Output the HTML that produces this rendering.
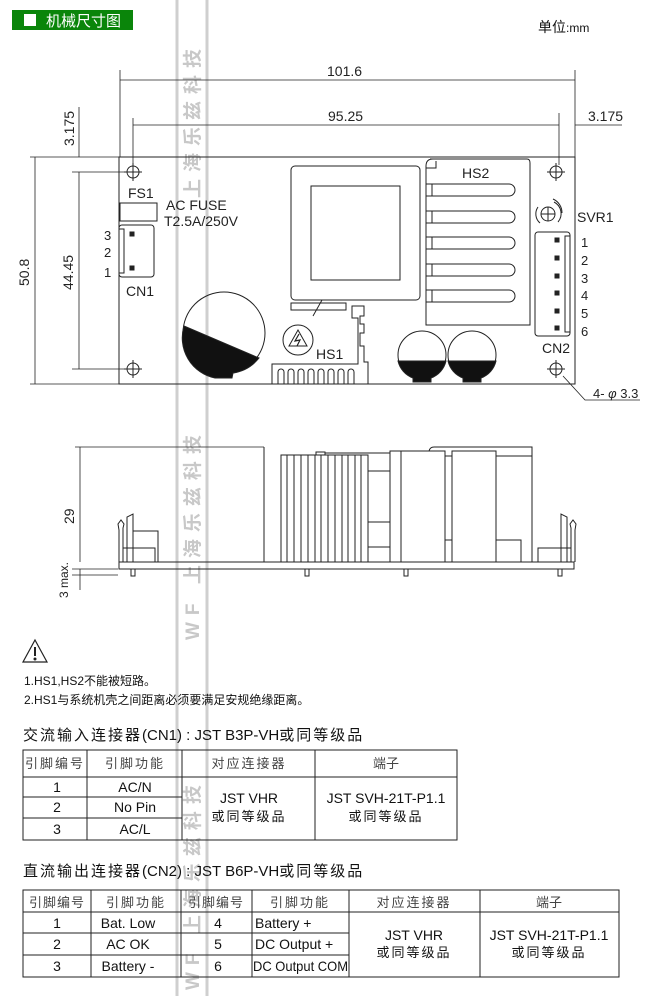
<!DOCTYPE html>
<html><head><meta charset="utf-8"><style>
html,body{margin:0;padding:0;background:#fff;}
body{width:657px;height:996px;position:relative;overflow:hidden;font-family:"Liberation Sans","Noto Sans CJK SC",sans-serif;color:#111;}
svg{position:absolute;left:0;top:0;}
text{font-family:"Liberation Sans Narrow","Liberation Sans","Noto Sans CJK SC",sans-serif;}
.cjk{font-family:"Liberation Sans","Noto Sans CJK SC",sans-serif;}
</style></head><body>
<svg width="657" height="996" viewBox="0 0 657 996" fill="none" stroke="#222" stroke-width="1">
<!-- watermark -->
<g stroke="#cfcfcf" stroke-width="3"><line x1="177" y1="0" x2="177" y2="996"/><line x1="207" y1="0" x2="207" y2="996"/></g>
<g fill="#c8c8c8" stroke="none" font-size="19" font-weight="bold" class="cjk">
<text class="cjk" transform="translate(199,198) rotate(-90)" letter-spacing="7">上海乐兹科技</text>
<text class="cjk" transform="translate(199,640) rotate(-90)" letter-spacing="7">WF 上海乐兹科技</text>
<text class="cjk" transform="translate(199,990) rotate(-90)" letter-spacing="7">WF 上海乐兹科技</text>
</g>
<!-- header -->
<rect x="12" y="10" width="121" height="20" fill="#0a850a" stroke="none"/>
<rect x="24" y="14" width="12" height="12" fill="#fff" stroke="none"/>
<text class="cjk" x="46" y="26" fill="#fff" stroke="none" font-size="15">机械尺寸图</text>
<text class="cjk" x="538" y="32" fill="#111" stroke="none" font-size="14">单位<tspan font-size="12">:mm</tspan></text>

<!-- top dimensions -->
<g stroke-width="0.8">
<line x1="120" y1="70" x2="120" y2="157"/><line x1="575" y1="70" x2="575" y2="157"/>
<line x1="120" y1="80" x2="575" y2="80"/>
<line x1="133" y1="118" x2="133" y2="165"/><line x1="559" y1="113" x2="559" y2="165"/>
<line x1="133" y1="125" x2="559" y2="125"/>
<line x1="575" y1="125" x2="622" y2="125"/>
<line x1="79" y1="107" x2="79" y2="157"/>
<line x1="30" y1="157" x2="120" y2="157"/><line x1="30" y1="384" x2="120" y2="384"/>
<line x1="72" y1="172" x2="140" y2="172"/><line x1="72" y1="369" x2="140" y2="369"/>
<line x1="35" y1="157" x2="35" y2="384"/><line x1="79" y1="172" x2="79" y2="369"/>
</g>
<g fill="#222" stroke="none" font-size="14">
<text x="327" y="76">101.6</text><text x="328" y="121">95.25</text><text x="588" y="121">3.175</text>
<text transform="translate(74,146) rotate(-90)">3.175</text>
<text transform="translate(29,286) rotate(-90)">50.8</text>
<text transform="translate(73,290) rotate(-90)">44.45</text>
</g>

<!-- board top -->
<rect x="119" y="157" width="456" height="227" stroke-width="1"/>
<g>
<circle cx="133" cy="172" r="6"/><line x1="124" y1="172" x2="142" y2="172"/><line x1="133" y1="163" x2="133" y2="181"/>
<circle cx="133" cy="369" r="6"/><line x1="124" y1="369" x2="142" y2="369"/><line x1="133" y1="360" x2="133" y2="378"/>
<circle cx="556" cy="172" r="6"/><line x1="547" y1="172" x2="565" y2="172"/><line x1="556" y1="163" x2="556" y2="181"/>
<circle cx="556" cy="369" r="6"/><line x1="547" y1="369" x2="565" y2="369"/><line x1="556" y1="360" x2="556" y2="378"/>
</g>
<polyline points="563,376 585,400 640,400" stroke-width="0.8"/>
<g fill="#222" stroke="none" font-size="14">
<text x="128" y="198">FS1</text>
<text x="166" y="210">AC FUSE</text><text x="164" y="226">T2.5A/250V</text>
<text x="104" y="240" font-size="13">3</text><text x="104" y="257" font-size="13">2</text><text x="104" y="277" font-size="13">1</text>
<text x="126" y="296">CN1</text>
<text x="462" y="178">HS2</text>
<text x="577" y="222">SVR1</text>
<text x="581" y="247" font-size="13">1</text><text x="581" y="265" font-size="13">2</text><text x="581" y="283" font-size="13">3</text>
<text x="581" y="300" font-size="13">4</text><text x="581" y="318" font-size="13">5</text><text x="581" y="336" font-size="13">6</text>
<text x="542" y="353">CN2</text>
<text x="316" y="359">HS1</text>
<text x="593" y="398" font-size="13">4- <tspan font-style="italic">φ</tspan> 3.3</text>
</g>
<rect x="120" y="203" width="37" height="18"/>
<rect x="119" y="225" width="35" height="52" rx="3"/>
<rect x="119" y="229" width="5" height="44"/>
<rect x="130" y="232" width="4" height="4" fill="#222"/><rect x="130" y="266" width="4" height="4" fill="#222"/>
<circle cx="224" cy="333" r="41"/>
<path d="M184,326 L259,358 A41,41 0 0 1 233,373 L232,378 L215,378 A41,41 0 0 1 184,326 Z" fill="#111"/>
<rect x="291" y="166" width="129" height="134" rx="4"/>
<rect x="311" y="186" width="89" height="94"/>
<rect x="291" y="303" width="55" height="7"/>
<line x1="313" y1="316" x2="322" y2="300"/>
<circle cx="298" cy="340" r="15"/>
<path d="M298,330 L307,346 L289,346 Z"/>
<path d="M299,334 L295,341 L300,340 L297,346" stroke-width="1.2"/>
<path d="M272,384 L272,364 L358,364 L358,318 L352,318 L352,306 L364,306 L364,316 L360,316 L360,324 L364,324 L364,333 L360,333 L360,346 L364,346 L364,362 L368,362 L368,384"/>
<path d="M278,384 L278,372 A3,3 0 0 1 284,372 L284,384 M288,384 L288,372 A3,3 0 0 1 294,372 L294,384 M298,384 L298,372 A3,3 0 0 1 304,372 L304,384 M308,384 L308,372 A3,3 0 0 1 314,372 L314,384 M318,384 L318,372 A3,3 0 0 1 324,372 L324,384 M328,384 L328,372 A3,3 0 0 1 334,372 L334,384 M338,384 L338,372 A3,3 0 0 1 344,372 L344,384 M348,384 L348,372 A3,3 0 0 1 354,372 L354,384"/>
<path d="M430,159 L527,159 Q530,159 530,163 L530,325 L426,325 L426,166 Q426,159 433,159 Z"/>
<path d="M426,168 L436,168 L436,161"/>
<g>
<path d="M426,184 L509,184 A6,6 0 0 1 509,196 L426,196 M432,184 L432,196"/>
<path d="M426,211 L509,211 A6,6 0 0 1 509,223 L426,223 M432,211 L432,223"/>
<path d="M426,237 L509,237 A6,6 0 0 1 509,249 L426,249 M432,237 L432,249"/>
<path d="M426,264 L509,264 A6,6 0 0 1 509,276 L426,276 M432,264 L432,276"/>
<path d="M426,290 L509,290 A6,6 0 0 1 509,302 L426,302 M432,290 L432,302"/>
</g>
<circle cx="548" cy="214" r="7"/><line x1="541" y1="214" x2="555" y2="214"/><line x1="548" y1="207" x2="548" y2="221"/>
<path d="M538,207 A12,12 0 0 0 540,223 M554,202 A13,13 0 0 1 558,222 M553,199 A15,15 0 0 1 562,213"/>
<rect x="535" y="232" width="35" height="104" rx="3"/>
<rect x="565" y="236" width="5" height="96"/>
<g fill="#222"><rect x="555" y="238" width="4" height="4"/><rect x="555" y="256" width="4" height="4"/><rect x="555" y="274" width="4" height="4"/><rect x="555" y="291" width="4" height="4"/><rect x="555" y="309" width="4" height="4"/><rect x="555" y="326" width="4" height="4"/></g>
<circle cx="422" cy="355" r="24"/><circle cx="472" cy="355" r="24"/>
<path d="M398,361 L446,361 A24,24 0 0 1 431,378 L431,382 L413,382 L413,378 A24,24 0 0 1 398,361 Z" fill="#111"/>
<path d="M448,361 L496,361 A24,24 0 0 1 481,378 L481,382 L463,382 L463,378 A24,24 0 0 1 448,361 Z" fill="#111"/>

<!-- side view -->
<g stroke-width="0.8">
<line x1="75" y1="447" x2="264" y2="447"/>
<line x1="80" y1="447" x2="80" y2="562"/>
<line x1="72" y1="569" x2="118" y2="569"/><line x1="72" y1="575" x2="118" y2="575"/>
<line x1="80" y1="569" x2="80" y2="590"/>
</g>
<g fill="#222" stroke="none" font-size="14">
<text transform="translate(74,524) rotate(-90)">29</text>
<text transform="translate(68,598) rotate(-90)" font-size="12">3 max.</text>
</g>
<rect x="119" y="562" width="455" height="7"/>
<line x1="264" y1="447" x2="264" y2="562"/>
<path d="M119,562 L119,530 L118,524 L121,520 L124,524 L123,528 L123,562 M123,548 L155,548 L155,562 M127,562 L127,517 L133,514 L133,531 L158,531 L158,562 M133,531 L133,562"/>
<rect x="281" y="455" width="87" height="107"/>
<g><line x1="287" y1="455" x2="287" y2="562"/><line x1="294" y1="455" x2="294" y2="562"/><line x1="301" y1="455" x2="301" y2="562"/><line x1="308" y1="455" x2="308" y2="562"/><line x1="315" y1="455" x2="315" y2="562"/><line x1="321" y1="455" x2="321" y2="562"/><line x1="328" y1="455" x2="328" y2="562"/><line x1="335" y1="455" x2="335" y2="562"/><line x1="342" y1="455" x2="342" y2="562"/><line x1="348" y1="455" x2="348" y2="562"/><line x1="355" y1="455" x2="355" y2="562"/><line x1="361" y1="455" x2="361" y2="562"/></g>
<rect x="316" y="452" width="9" height="3"/>
<line x1="325" y1="453" x2="390" y2="453"/>
<path d="M368,471 L390,471 M368,522 L390,522 M368,547 L390,547"/>
<rect x="390" y="451" width="55" height="111"/>
<line x1="401" y1="451" x2="401" y2="562"/>
<rect x="452" y="451" width="44" height="111"/>
<line x1="445" y1="456" x2="452" y2="456"/><line x1="445" y1="540" x2="452" y2="540"/>
<path d="M429,451 Q430,447 434,447 L532,447 L532,562 M496,456 L532,456 M496,540 L521,540 L521,562"/>
<path d="M575,562 L575,530 L576,524 L573,520 L570,524 L571,528 L571,562 M571,548 L538,548 L538,562 M567,562 L567,517 L561,514 L561,531 M561,531 L561,562"/>
<g><rect x="131" y="569" width="4" height="7"/><rect x="305" y="569" width="4" height="7"/><rect x="404" y="569" width="4" height="7"/><rect x="558" y="569" width="4" height="7"/></g>

<!-- warning -->
<path d="M35,640 L47,662 L23,662 Z" stroke-width="1.2"/>
<line x1="35" y1="647" x2="35" y2="656" stroke-width="2"/>
<circle cx="35" cy="659" r="1" fill="#222"/>
<g fill="#111" stroke="none" font-size="12">
<text x="24" y="685">1.HS1,HS2<tspan class="cjk">不能被短路。</tspan></text>
<text x="24" y="704">2.HS1<tspan class="cjk">与系统机壳之间距离必须要满足安规绝缘距离。</tspan></text>
</g>
<g fill="#111" stroke="none" font-size="15">
<text x="23" y="740"><tspan class="cjk" letter-spacing="2">交流输入连接器</tspan>(CN1) : JST B3P-VH<tspan class="cjk" letter-spacing="2">或同等级品</tspan></text>
<text x="23" y="876"><tspan class="cjk" letter-spacing="2">直流输出连接器</tspan>(CN2) : JST B6P-VH<tspan class="cjk" letter-spacing="2">或同等级品</tspan></text>
</g>

<!-- table 1 -->
<g stroke="#222" stroke-width="1">
<rect x="23" y="750" width="434" height="90"/>
<line x1="23" y1="777" x2="457" y2="777"/>
<line x1="23" y1="797" x2="182" y2="797"/><line x1="23" y1="818" x2="182" y2="818"/>
<line x1="87" y1="750" x2="87" y2="840"/><line x1="182" y1="750" x2="182" y2="840"/><line x1="315" y1="750" x2="315" y2="840"/>
</g>
<g fill="#111" stroke="none" font-size="14" text-anchor="middle">
<text class="cjk" x="55" y="768" fill="#444" font-size="13" letter-spacing="2">引脚编号</text><text class="cjk" x="135" y="768" fill="#444" font-size="13" letter-spacing="2">引脚功能</text>
<text class="cjk" x="249" y="768" fill="#444" font-size="13" letter-spacing="2">对应连接器</text><text class="cjk" x="386" y="768" fill="#444" font-size="13">端子</text>
<text x="57" y="792">1</text><text x="135" y="792">AC/N</text>
<text x="57" y="812">2</text><text x="135" y="812">No Pin</text>
<text x="57" y="834">3</text><text x="135" y="834">AC/L</text>
<text x="249" y="803">JST VHR</text><text class="cjk" x="249" y="821" font-size="13" letter-spacing="2">或同等级品</text>
<text x="386" y="803">JST SVH-21T-P1.1</text><text class="cjk" x="386" y="821" font-size="13" letter-spacing="2">或同等级品</text>
</g>

<!-- table 2 -->
<g stroke="#222" stroke-width="1">
<rect x="23" y="890" width="596" height="87"/>
<line x1="23" y1="912" x2="619" y2="912"/>
<line x1="23" y1="933" x2="349" y2="933"/><line x1="23" y1="955" x2="349" y2="955"/>
<line x1="91" y1="890" x2="91" y2="977"/><line x1="181" y1="890" x2="181" y2="977"/><line x1="252" y1="890" x2="252" y2="977"/><line x1="349" y1="890" x2="349" y2="977"/><line x1="480" y1="890" x2="480" y2="977"/>
</g>
<g fill="#111" stroke="none" font-size="14" text-anchor="middle">
<text class="cjk" x="57" y="907" fill="#444" font-size="13" letter-spacing="1">引脚编号</text><text class="cjk" x="136" y="907" fill="#444" font-size="13" letter-spacing="2">引脚功能</text>
<text class="cjk" x="216" y="907" fill="#444" font-size="13" letter-spacing="1">引脚编号</text><text class="cjk" x="300" y="907" fill="#444" font-size="13" letter-spacing="2">引脚功能</text>
<text class="cjk" x="414" y="907" fill="#444" font-size="13" letter-spacing="2">对应连接器</text><text class="cjk" x="549" y="907" fill="#444" font-size="13">端子</text>
<text x="57" y="928">1</text><text x="128" y="928">Bat. Low</text><text x="218" y="928">4</text>
<text x="57" y="949">2</text><text x="128" y="949">AC OK</text><text x="218" y="949">5</text>
<text x="57" y="971">3</text><text x="128" y="971">Battery -</text><text x="218" y="971">6</text>
<text x="414" y="940">JST VHR</text><text class="cjk" x="414" y="957" font-size="13" letter-spacing="2">或同等级品</text>
<text x="549" y="940">JST SVH-21T-P1.1</text><text class="cjk" x="549" y="957" font-size="13" letter-spacing="2">或同等级品</text>
</g>
<g fill="#111" stroke="none" font-size="14">
<text x="255" y="928">Battery +</text><text x="255" y="949">DC Output +</text><text x="253" y="971" textLength="95" lengthAdjust="spacingAndGlyphs">DC Output COM</text>
</g>
</svg>
</body></html>
